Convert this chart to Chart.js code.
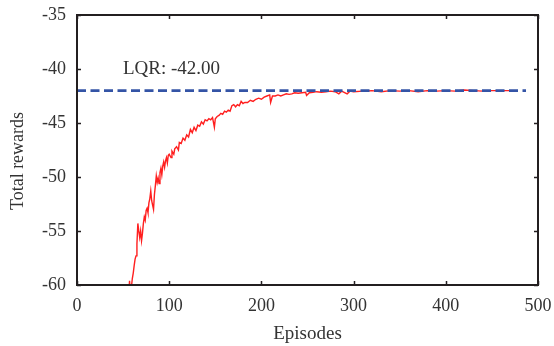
<!DOCTYPE html>
<html>
<head>
<meta charset="utf-8">
<script src="https://cdn.jsdelivr.net/npm/chart.js@4/dist/chart.umd.min.js"></script>
<style>
  body { margin: 0; background: #fff; }
  canvas { display: block; }
</style>
</head>
<body>
<canvas id="rewardChart" width="554" height="346"></canvas>
<script>
/*** Data ***/
const episodes = [
  56, 57, 58, 59, 60, 61, 62, 63, 64, 65, 66, 67, 68, 69, 70, 71, 72, 73, 74, 75,
  76, 77, 78, 79, 80, 81, 82, 83, 84, 85, 86, 87, 88, 89, 90, 91, 92, 93, 94, 95,
  96, 97, 98, 99, 100, 102, 103, 105, 106, 108, 110, 111, 113, 115, 117, 119, 121, 123, 125, 127,
  129, 131, 133, 135, 137, 139, 141, 143, 145, 147, 149, 150, 152, 154, 156, 158, 160, 162, 164, 166,
  168, 170, 172, 174, 176, 178, 180, 182, 185, 188, 191, 194, 197, 200, 203, 206, 209, 210, 212, 215,
  218, 221, 224, 227, 230, 233, 236, 240, 244, 248, 249, 252, 256, 260, 265, 270, 275, 280, 284, 287,
  293, 296, 300, 310, 320, 330, 340, 350, 360, 370, 380, 390, 400, 410, 420, 430, 440, 450, 460, 470
];
const rewards = [
  -61.0, -59.6, -60.8, -60.2, -59.4, -58.9, -58.2, -57.6, -57.3, -56.2, -54.3, -55.0, -55.6, -55.0, -55.9, -55.2, -54.3, -53.7, -54.0, -53.1,
  -52.9, -53.3, -52.4, -52.0, -51.3, -52.2, -52.6, -53.0, -51.6, -50.8, -49.9, -50.5, -50.1, -50.6, -49.6, -49.2, -49.8, -49.0, -48.6, -49.1,
  -48.5, -48.2, -48.7, -48.0, -47.9, -48.2, -47.6, -47.9, -47.4, -47.2, -47.5, -46.8, -46.9, -46.4, -46.6, -46.1, -46.3, -45.6, -45.9, -45.4,
  -45.7, -45.2, -45.3, -44.9, -45.1, -44.7, -44.8, -44.6, -44.7, -44.5, -45.4, -44.6, -44.4, -44.3, -44.1, -44.2, -43.9, -44.0, -43.8, -43.9,
  -43.4, -43.3, -43.5, -43.3, -43.4, -43.0, -43.2, -43.1, -43.1, -42.9, -43.0, -42.8, -42.7, -42.8, -42.6, -42.5, -42.4, -43.1, -42.5, -42.5,
  -42.4, -42.5, -42.4, -42.3, -42.35, -42.3, -42.2, -42.25, -42.2, -42.15, -42.45, -42.2, -42.15, -42.1, -42.15, -42.1, -42.05, -42.1, -42.3, -42.05,
  -42.3, -42.05, -42.1, -42.05, -42.0, -42.1, -42.0, -42.05, -42.0, -42.1, -42.0, -42.05, -42.0, -42.05, -41.95, -42.0, -42.05, -42.0, -42.0, -42.0
];
const lqrEpisodes = [0, 487];
const lqrRewards = [-42, -42];
const lqrLabel = "LQR: -42.00";
const xTicks = [0, 100, 200, 300, 400, 500];
const yTicks = [-60, -55, -50, -45, -40, -35];

/*** Styles ***/
const serif = "'Liberation Serif', 'Times New Roman', serif";
const inkColor = "#231f20";
const labelColor = "#333333";

/*** Plugins ***/
const framePlugin = {
    id: "frame",
    afterDatasetsDraw(chart) {
        const ctx = chart.ctx;
        const area = chart.chartArea;
        const xs = chart.scales.x;
        const ys = chart.scales.y;
        ctx.save();
        ctx.strokeStyle = inkColor;
        ctx.lineWidth = 2;
        ctx.strokeRect(area.left, area.top, area.right - area.left, area.bottom - area.top);
        // inward ticks on all four sides
        ctx.lineWidth = 1.5;
        ctx.beginPath();
        xTicks.forEach((v) => {
            const px = Math.round(xs.getPixelForValue(v)) + 0.5;
            ctx.moveTo(px, area.bottom);
            ctx.lineTo(px, area.bottom - 4);
            ctx.moveTo(px, area.top);
            ctx.lineTo(px, area.top + 4);
        });
        yTicks.forEach((v) => {
            const py = Math.round(ys.getPixelForValue(v)) + 0.5;
            ctx.moveTo(area.left, py);
            ctx.lineTo(area.left + 4, py);
            ctx.moveTo(area.right, py);
            ctx.lineTo(area.right - 4, py);
        });
        ctx.stroke();

        // LQR annotation
        ctx.fillStyle = labelColor;
        ctx.font = "19px " + serif;
        ctx.textAlign = "center";
        ctx.textBaseline = "alphabetic";
        ctx.fillText(lqrLabel, xs.getPixelForValue(102.5), ys.getPixelForValue(-40.45));

        // y axis title
        ctx.translate(23, 161);
        ctx.rotate(-Math.PI / 2);
        ctx.font = "18px " + serif;
        ctx.fillText("Total rewards", 0, 0);
        ctx.restore();
    }
};

/*** Chart ***/
function renderChart() {
    const chartData = {
        datasets: [
            {
                label: "LQR",
                data: lqrEpisodes.map((x, i) => ({ x: x, y: lqrRewards[i] })),
                borderColor: "#3454a6",
                borderWidth: 2.8,
                borderDash: [9, 4.5],
                pointRadius: 0,
                order: 0
            },
            {
                label: "Total rewards",
                data: episodes.map((x, i) => ({ x: x, y: rewards[i] })),
                borderColor: "#ff1f1f",
                borderWidth: 1.4,
                pointRadius: 0,
                tension: 0,
                order: 1
            }
        ]
    };

    const options = {
        responsive: false,
        animation: false,
        layout: { padding: { top: 15, right: 16, left: 0, bottom: 0 } },
        plugins: {
            legend: { display: false },
            tooltip: { enabled: false }
        },
        scales: {
            x: {
                type: "linear",
                min: 0,
                max: 500,
                grid: { display: false, drawTicks: false },
                border: { display: false },
                afterBuildTicks: (scale) => { scale.ticks = xTicks.map((v) => ({ value: v })); },
                afterFit: (scale) => {
                    scale.height = 61;
                    scale.paddingLeft = 0;
                    scale.paddingRight = 0;
                },
                ticks: {
                    color: labelColor,
                    font: { family: serif, size: 18 },
                    padding: 10,
                    maxRotation: 0
                },
                title: {
                    display: true,
                    text: "Episodes",
                    color: labelColor,
                    font: { family: serif, size: 19 },
                    padding: { top: 0, bottom: 1 }
                }
            },
            y: {
                type: "linear",
                min: -60,
                max: -35,
                grid: { display: false, drawTicks: false },
                border: { display: false },
                afterBuildTicks: (scale) => { scale.ticks = yTicks.map((v) => ({ value: v })); },
                afterFit: (scale) => {
                    scale.width = 77;
                    scale.paddingTop = 0;
                    scale.paddingBottom = 0;
                },
                ticks: {
                    color: labelColor,
                    font: { family: serif, size: 18 },
                    padding: 11
                }
            }
        }
    };

    const ctx = document.getElementById("rewardChart").getContext("2d");
    window.myChart = new Chart(ctx, {
        type: "line",
        data: chartData,
        options: options,
        plugins: [framePlugin]
    });
}
renderChart();
</script>
</body>
</html>
